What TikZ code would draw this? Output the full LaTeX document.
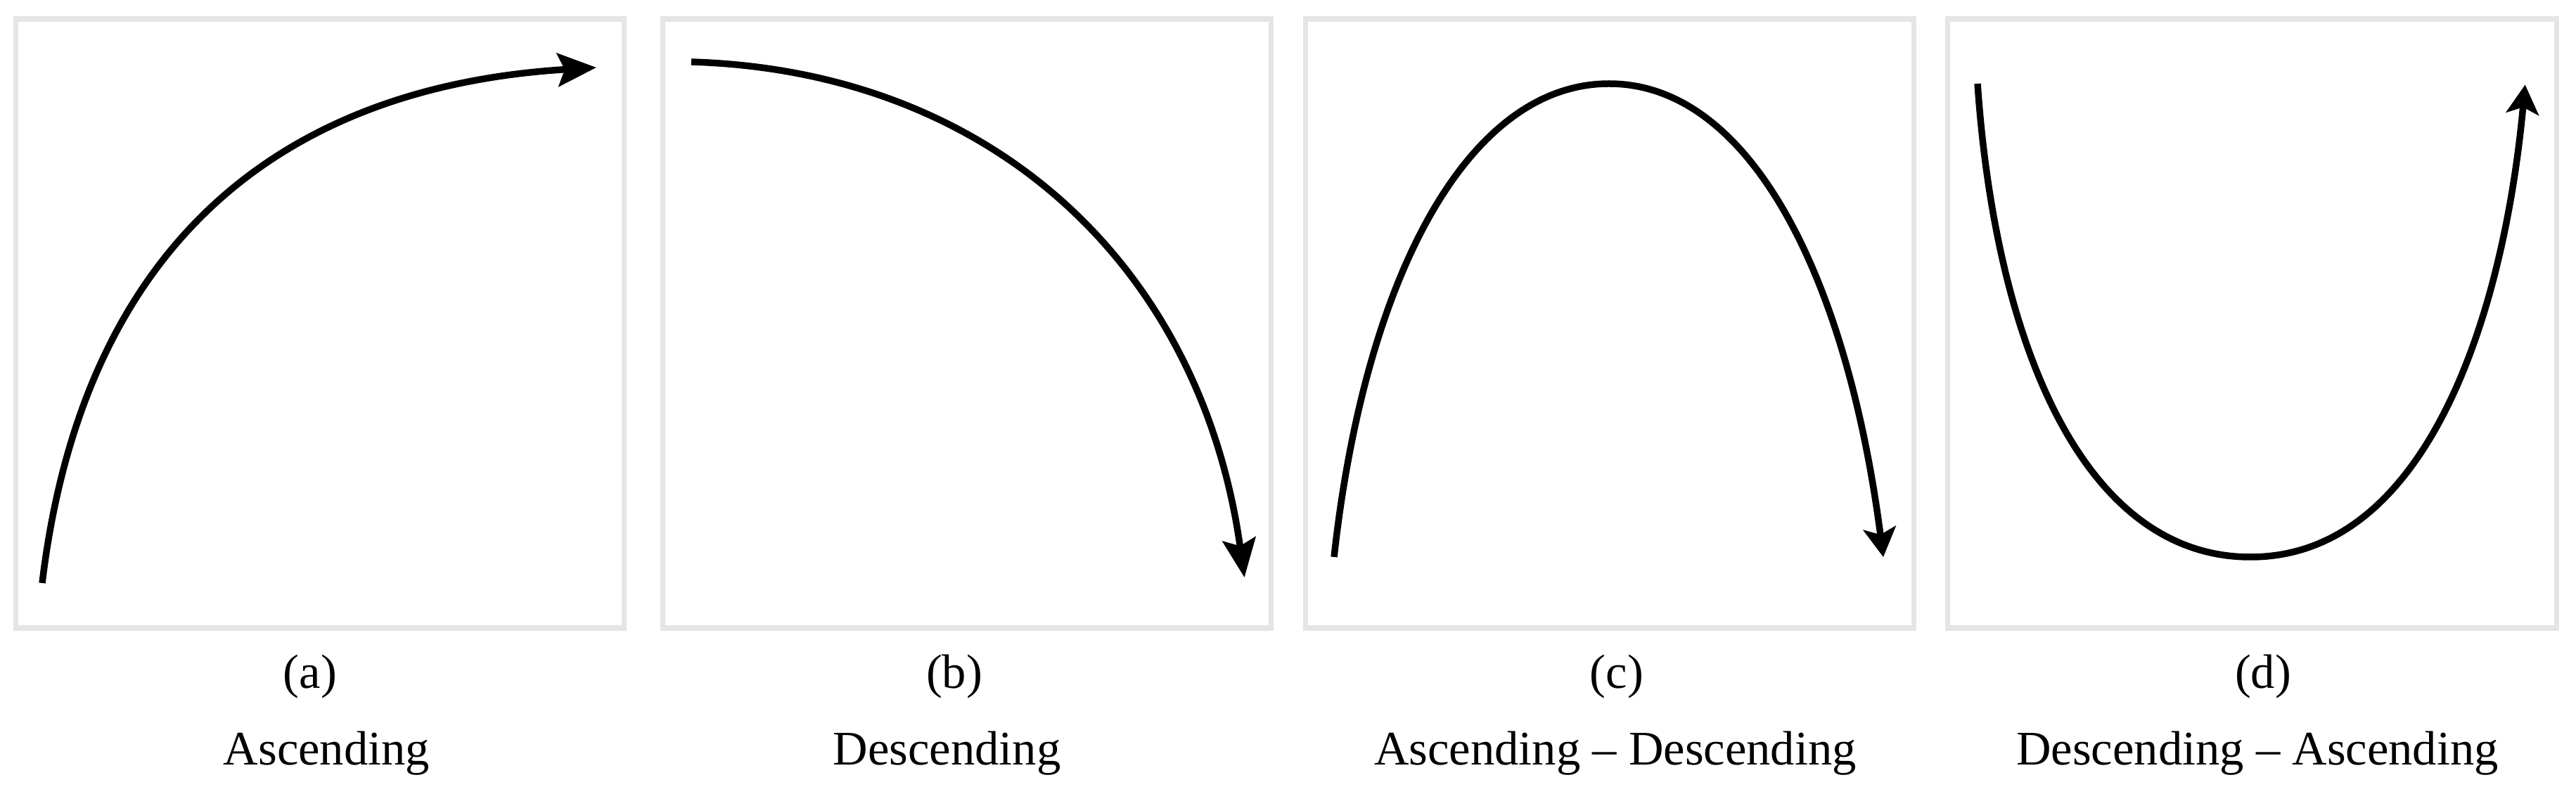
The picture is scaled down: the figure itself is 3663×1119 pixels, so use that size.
\documentclass[tikz,border=0pt]{standalone}
\usepackage{fontspec}
\setmainfont{Liberation Serif}
\usetikzlibrary{arrows.meta}
\definecolor{boxgray}{RGB}{229,229,229}
\begin{document}
\begin{tikzpicture}[x=0.01cm,y=-0.01cm,
  panel/.style={draw=boxgray,line width=2pt},
  curve/.style={line width=2.7pt,draw=black},
  bigtip/.style={-{Stealth[length=15.6pt,width=13.4pt,inset=2.8pt]}},
  smalltip/.style={-{Stealth[length=11.8pt,width=13.2pt,inset=2.7pt]}},
  lbl/.style={anchor=base,inner sep=0pt,font=\fontsize{19.5}{23}\selectfont}]
\useasboundingbox (0,0) rectangle (3663,1119);
\fill[white] (0,0) rectangle (3663,1119);
% panels
\draw[panel] (22.5,27) rectangle (887.5,893);
\draw[panel] (942.5,27) rectangle (1807.5,893);
\draw[panel] (1856,27) rectangle (2721.5,893);
\draw[panel] (2769,27) rectangle (3635,893);
% (a) ascending
\coordinate (a0) at (60,829);
\coordinate (a1) at (117,354);
\coordinate (a2) at (393,124);
\coordinate (a3) at (848,96);
\draw[curve,bigtip] (a0) .. controls (a1) and (a2) .. (a3);
% (b) descending
\coordinate (b0) at (983,88);
\coordinate (b1) at (1413,101);
\coordinate (b2) at (1708,381);
\coordinate (b3) at (1769.5,821);
\draw[curve,bigtip] (b0) .. controls (b1) and (b2) .. (b3);
% (c) ascending - descending
\coordinate (c0) at (1897,792);
\coordinate (c1) at (1941,392);
\coordinate (c2) at (2088,119);
\coordinate (c3) at (2288,119);
\coordinate (c4) at (2488,119);
\coordinate (c5) at (2626,392);
\coordinate (c6) at (2678,792);
\draw[curve,smalltip] (c0) .. controls (c1) and (c2) .. (c3) .. controls (c4) and (c5) .. (c6);
% (d) descending - ascending
\coordinate (d0) at (2812,119);
\coordinate (d1) at (2838,494);
\coordinate (d2) at (2965,792);
\coordinate (d3) at (3200,792);
\coordinate (d4) at (3450,792);
\coordinate (d5) at (3560,450);
\coordinate (d6) at (3590.6,120.5);
\draw[curve,smalltip] (d0) .. controls (d1) and (d2) .. (d3) .. controls (d4) and (d5) .. (d6);
% labels
\node[lbl] (la) at (441,978) {(a)};
\node[lbl] (ta) at (464.5,1087) {Ascending};
\node[lbl] (lb) at (1357,978) {(b)};
\node[lbl] (tb) at (1346.5,1087) {Descending};
\node[lbl] (lc) at (2299,978) {(c)};
\node[lbl] (tc) at (2297,1087) {Ascending \textendash\ Descending};
\node[lbl] (ld) at (3218,978) {(d)};
\node[lbl] (td) at (3210,1087) {Descending \textendash\ Ascending};
\end{tikzpicture}
\end{document}
